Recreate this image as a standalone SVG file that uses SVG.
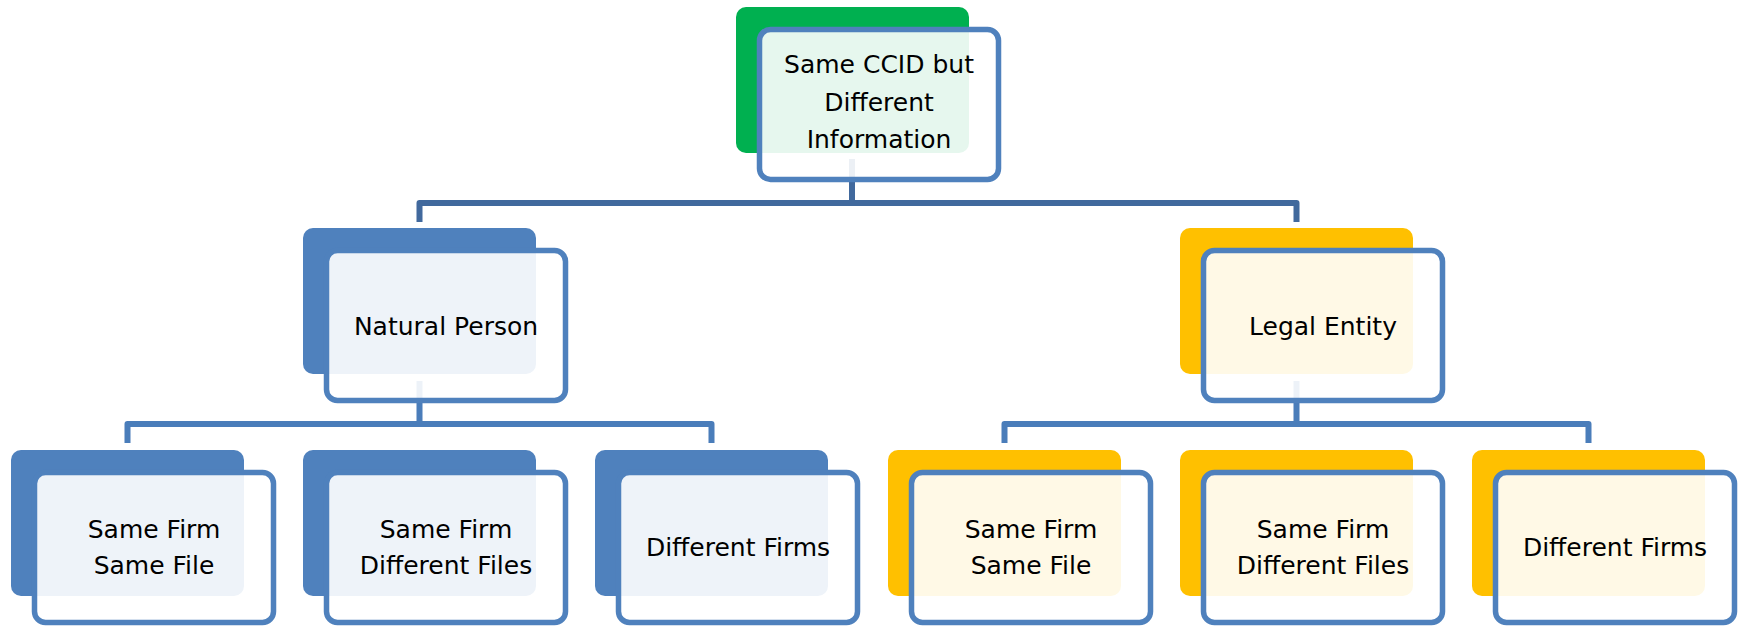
<svg xmlns="http://www.w3.org/2000/svg" width="1743" height="626" viewBox="0 0 1743 626">
  <style>
    .conn { fill: none; stroke-width: 6; stroke-linejoin: round; stroke-linecap: butt; }
    .conn-top { stroke: #41699D; }
    .conn-sub { stroke: #4A7DBA; }
    .back { stroke: none; }
    .green { fill: #00B050; }
    .blue { fill: #4F81BD; }
    .gold { fill: #FFC000; }
    .front { fill: #FFFFFF; fill-opacity: 0.9; stroke: #4F81BD; stroke-width: 5.5; }
    .label { font-family: "DejaVu Sans", "Liberation Sans", sans-serif; font-size: 25px; fill: #000000; text-anchor: middle; }
  </style>

  <!-- connectors, drawn first so the translucent card faces show them faintly -->
  <g id="connectors">
    <path class="conn conn-top" d="M852 159 V203 M419.5 222 V203 H1296.5 V222"/>
    <path class="conn conn-sub" d="M419.5 381 V424 M127.5 443 V424 H711.5 V443"/>
    <path class="conn conn-sub" d="M1296.5 381 V424 M1004.5 443 V424 H1588.5 V443"/>
  </g>

  <!-- root -->
  <g id="root">
    <rect class="back green" x="736" y="7" width="233" height="146" rx="10"/>
    <rect class="front" x="759.5" y="29.5" width="239" height="150" rx="11"/>
    <text class="label" x="879" y="73">Same CCID but</text>
    <text class="label" x="879" y="111">Different</text>
    <text class="label" x="879" y="148">Information</text>
  </g>

  <!-- second level -->
  <g id="natural-person">
    <rect class="back blue" x="303" y="228" width="233" height="146" rx="10"/>
    <rect class="front" x="326.5" y="250.5" width="239" height="150" rx="11"/>
    <text class="label" x="446" y="335">Natural Person</text>
  </g>

  <g id="legal-entity">
    <rect class="back gold" x="1180" y="228" width="233" height="146" rx="10"/>
    <rect class="front" x="1203.5" y="250.5" width="239" height="150" rx="11"/>
    <text class="label" x="1323" y="335">Legal Entity</text>
  </g>

  <!-- third level: natural person -->
  <g id="np-same-firm-same-file">
    <rect class="back blue" x="11" y="450" width="233" height="146" rx="10"/>
    <rect class="front" x="34.5" y="472.5" width="239" height="150" rx="11"/>
    <text class="label" x="154" y="538">Same Firm</text>
    <text class="label" x="154" y="574">Same File</text>
  </g>

  <g id="np-same-firm-different-files">
    <rect class="back blue" x="303" y="450" width="233" height="146" rx="10"/>
    <rect class="front" x="326.5" y="472.5" width="239" height="150" rx="11"/>
    <text class="label" x="446" y="538">Same Firm</text>
    <text class="label" x="446" y="574">Different Files</text>
  </g>

  <g id="np-different-firms">
    <rect class="back blue" x="595" y="450" width="233" height="146" rx="10"/>
    <rect class="front" x="618.5" y="472.5" width="239" height="150" rx="11"/>
    <text class="label" x="738" y="556">Different Firms</text>
  </g>

  <!-- third level: legal entity -->
  <g id="le-same-firm-same-file">
    <rect class="back gold" x="888" y="450" width="233" height="146" rx="10"/>
    <rect class="front" x="911.5" y="472.5" width="239" height="150" rx="11"/>
    <text class="label" x="1031" y="538">Same Firm</text>
    <text class="label" x="1031" y="574">Same File</text>
  </g>

  <g id="le-same-firm-different-files">
    <rect class="back gold" x="1180" y="450" width="233" height="146" rx="10"/>
    <rect class="front" x="1203.5" y="472.5" width="239" height="150" rx="11"/>
    <text class="label" x="1323" y="538">Same Firm</text>
    <text class="label" x="1323" y="574">Different Files</text>
  </g>

  <g id="le-different-firms">
    <rect class="back gold" x="1472" y="450" width="233" height="146" rx="10"/>
    <rect class="front" x="1495.5" y="472.5" width="239" height="150" rx="11"/>
    <text class="label" x="1615" y="556">Different Firms</text>
  </g>
</svg>
